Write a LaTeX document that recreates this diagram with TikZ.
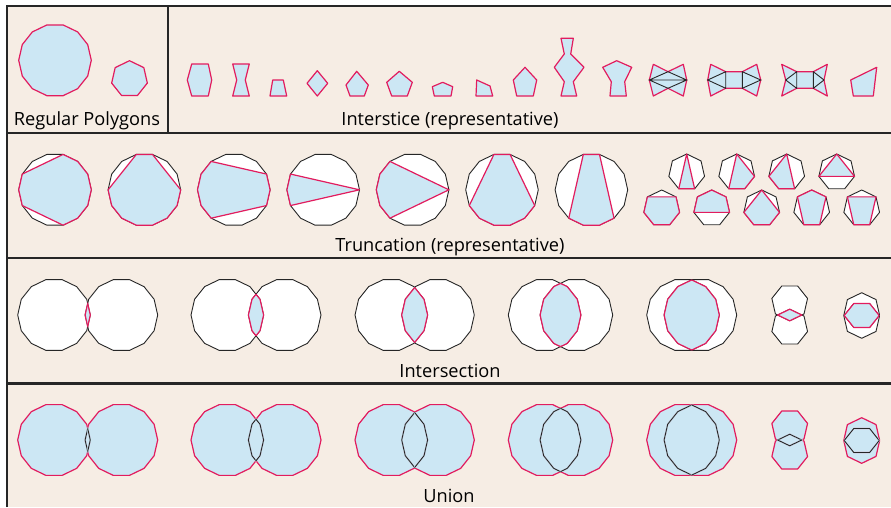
\documentclass[tikz,border=0pt]{standalone}
\usepackage{fontspec}
\setmainfont{Open Sans}

\definecolor{paper}{HTML}{F6EDE4}
\definecolor{cellblue}{HTML}{CCE7F4}
\definecolor{rimred}{HTML}{E21C5E}

\tikzset{
  frame/.style={line width=2.2pt, draw=black!85},
  host/.style={fill=white, draw=black!85, line width=0.9pt, line join=round},
  piece/.style={fill=cellblue, draw=rimred, line width=1.2pt, line join=round},
  rim/.style={draw=rimred, line width=1.2pt, line join=round},
  outline/.style={draw=black!85, line width=0.9pt, line join=round},
  underlay/.style={draw=cellblue, line width=1.8pt, line join=round},
  spoke/.style={draw=black!85, line width=0.9pt},
  caption/.style={font=\fontsize{18.2}{21}\selectfont, inner sep=0pt, anchor=base}
}

\newcommand{\gonpath}[2]{plot[variable=\t,samples=15,domain=0:360] ({#1+36.3*cos(\t)},{#2+36.3*sin(\t)}) -- cycle}
\newcommand{\heppath}[3]{plot[variable=\t,samples=8,domain=#3:#3+360] ({#1+18.3*cos(\t)},{#2+18.3*sin(\t)}) -- cycle}

\newcommand{\cutgon}[4]{%
  \draw[host] \gonpath{#1}{#2};
  \draw[piece] ({#1+36.3*cos(#3*25.714)},{#2-36.3*sin(#3*25.714)})
    \foreach \k in {#4} { -- ({#1+36.3*cos(\k*25.714)},{#2-36.3*sin(\k*25.714)}) } -- cycle;}
\newcommand{\cuthep}[4]{%
  \draw[host] \heppath{#1}{#2}{-90};
  \draw[piece] ({#1+18.3*cos(90+#3*51.4286)},{#2-18.3*sin(90+#3*51.4286)})
    \foreach \k in {#4} { -- ({#1+18.3*cos(90+\k*51.4286)},{#2-18.3*sin(90+\k*51.4286)}) } -- cycle;}

\newcommand{\overlapcap}[2]{%
  \fill[white] #1; \fill[white] #2;
  \draw[outline] #1; \draw[outline] #2;
  \begin{scope} \clip #1; \fill[cellblue] #2; \draw[rim] #2; \end{scope}
  \begin{scope} \clip #2; \draw[rim] #1; \end{scope}}
\newcommand{\overlapcup}[2]{%
  \fill[cellblue] #1; \fill[cellblue] #2;
  \draw[rim] #1; \draw[rim] #2;
  \begin{scope} \clip #1; \draw[underlay] #2; \draw[outline] #2; \end{scope}
  \begin{scope} \clip #2; \draw[underlay] #1; \draw[outline] #1; \end{scope}}

\begin{document}
\begin{tikzpicture}[x=1pt,y=-1pt]
  \useasboundingbox (0,0) rectangle (891,507);
  \fill[paper] (7,6) rectangle (891,507);

  \draw[piece] \gonpath{55}{60.3};
  \draw[piece] \heppath{129.5}{79}{-90};

  \draw[piece] (191.7,64) -- (208.3,64) -- (211.7,80) -- (208.3,96) -- (191.7,96) -- (187.3,80) -- cycle;
  \draw[piece] (232.7,64) -- (249.3,64) -- (245.3,80) -- (249.3,96) -- (232.7,96) -- (236.7,80) -- cycle;
  \draw[piece] (272.7,80) -- (283.3,80) -- (286.7,96) -- (270,96) -- cycle;
  \draw[piece] (317.3,70.7) -- (327.7,83.3) -- (317.3,96) -- (307,83.3) -- cycle;
  \draw[piece] (356.7,71.3) -- (368.3,85) -- (364.3,96) -- (350,96) -- (346,85) -- cycle;
  \draw[piece] (399.3,71.3) -- (412.3,82.3) -- (407.3,96) -- (391.7,96) -- (386.7,82.3) -- cycle;
  \draw[piece] (442.7,82.3) -- (452.7,86.7) -- (451,96) -- (434.3,96) -- (432.3,86.7) -- cycle;
  \draw[piece] (476.7,80) -- (490,86) -- (492.7,96) -- (476,96) -- cycle;
  \draw[piece] (525,67.3) -- (536.7,80) -- (533.3,96) -- (516.7,96) -- (513.3,80) -- cycle;
  \draw[piece] (561,38.3) -- (573.3,38.3) -- (570.7,54) -- (584,67.3) -- (573.3,81.7) -- (576.7,96)
    -- (561,96) -- (564.3,81.7) -- (554.3,67.3) -- (564.3,54) -- cycle;
  \draw[piece] (616.7,60.7) -- (631.7,67.3) -- (624.7,81.7) -- (626.3,96) -- (610,96) -- (611.3,81.7) -- (602.7,67.3) -- cycle;
  \draw[piece] (653.3,64.3) -- (668,71.7) -- (683.3,64.3) -- (686.7,80) -- (683.3,96) -- (668,88.3) -- (653.3,96) -- (649.3,80) -- cycle;
  \draw[spoke] (649.3,80) -- (668,71.7) -- (686.7,80) -- (668,88.3) -- cycle (649.3,80) -- (686.7,80);
  \draw[piece] (710.7,64.3) -- (725.7,71.7) -- (742.3,71.7) -- (756.7,64.3) -- (760.7,80) -- (756.7,96)
    -- (742.3,88.3) -- (725.7,88.3) -- (710.7,96) -- (707.7,80) -- cycle;
  \draw[spoke] (707.7,80) -- (725.7,71.7) -- (725.7,88.3) -- cycle (760.7,80) -- (742.3,71.7) -- (742.3,88.3) -- cycle;
  \draw[piece] (781.7,64.3) -- (796.7,71.7) -- (813.3,71.7) -- (827.3,64.3) -- (824,80) -- (827.3,96)
    -- (813.3,88.3) -- (796.7,88.3) -- (781.7,96) -- (785.7,80) -- cycle;
  \draw[spoke] (785.7,80) -- (796.7,71.7) -- (796.7,88.3) -- cycle (824,80) -- (813.3,71.7) -- (813.3,88.3) -- cycle;
  \draw[piece] (850.7,80) -- (876.7,67.3) -- (873.3,96) -- (853.3,96) -- cycle;

  \cutgon{55}{189.8}{11}{12,13,0,1,2,3,6,7,8}
  \cutgon{144.4}{189.8}{0}{3,4,7,8,9,10,11,12,13}
  \cutgon{233.8}{189.8}{1}{5,6,7,8,9,13,0}
  \cutgon{323.2}{189.8}{0}{6,7,8}
  \cutgon{412.6}{189.8}{0}{5,6,7,8,9}
  \cutgon{502}{189.8}{3}{4,8,9,10,11,12,13}
  \cutgon{591.4}{189.8}{3}{4,9,10,11,12}

  \cuthep{686.7}{172.3}{0}{3,4}
  \cuthep{736.7}{172.3}{0}{3,4,5}
  \cuthep{786.7}{172.3}{0}{2,3,4}
  \cuthep{836.7}{172.3}{0}{2,5}
  \cuthep{661.7}{208.3}{1}{2,3,4,5,6}
  \cuthep{711.7}{208.3}{5}{6,0,1,2}
  \cuthep{761.7}{208.3}{0}{2,3,4,5}
  \cuthep{811.7}{208.3}{0}{1,3,4,6}
  \cuthep{861.7}{208.3}{1}{3,4,6}

  \foreach \a/\b in {54/121.4, 227.3/284.7, 391.3/438, 544.6/576.4, 683/700.4} {
    \overlapcap{\gonpath{\a}{315}}{\gonpath{\b}{315}}
    \overlapcup{\gonpath{\a}{440}}{\gonpath{\b}{440}}
  }
  \overlapcap{\heppath{789.7}{302.5}{90}}{\heppath{789.7}{327.5}{-90}}
  \overlapcap{\heppath{861.7}{311}{-90}}{\heppath{861.7}{320}{90}}
  \overlapcup{\heppath{789.7}{427.5}{90}}{\heppath{789.7}{452.5}{-90}}
  \overlapcup{\heppath{861.7}{436}{-90}}{\heppath{861.7}{445}{90}}

  \node[caption] (regular) at (87,125.5) {Regular Polygons};
  \node[caption] (interstice) at (450,125) {Interstice (representative)};
  \node[caption] (truncation) at (450,251.5) {Truncation (representative)};
  \node[caption] (intersection) at (450,377) {Intersection};
  \node[caption] (union) at (449,502) {Union};

  \draw[frame] (7,507) -- (7,6) -- (891,6);
  \draw[frame] (168,6) -- (168,133);
  \draw[frame] (7,133) -- (891,133);
  \draw[frame] (7,258) -- (891,258);
  \draw[frame] (7,383.5) -- (891,383.5);
\end{tikzpicture}
\end{document}
